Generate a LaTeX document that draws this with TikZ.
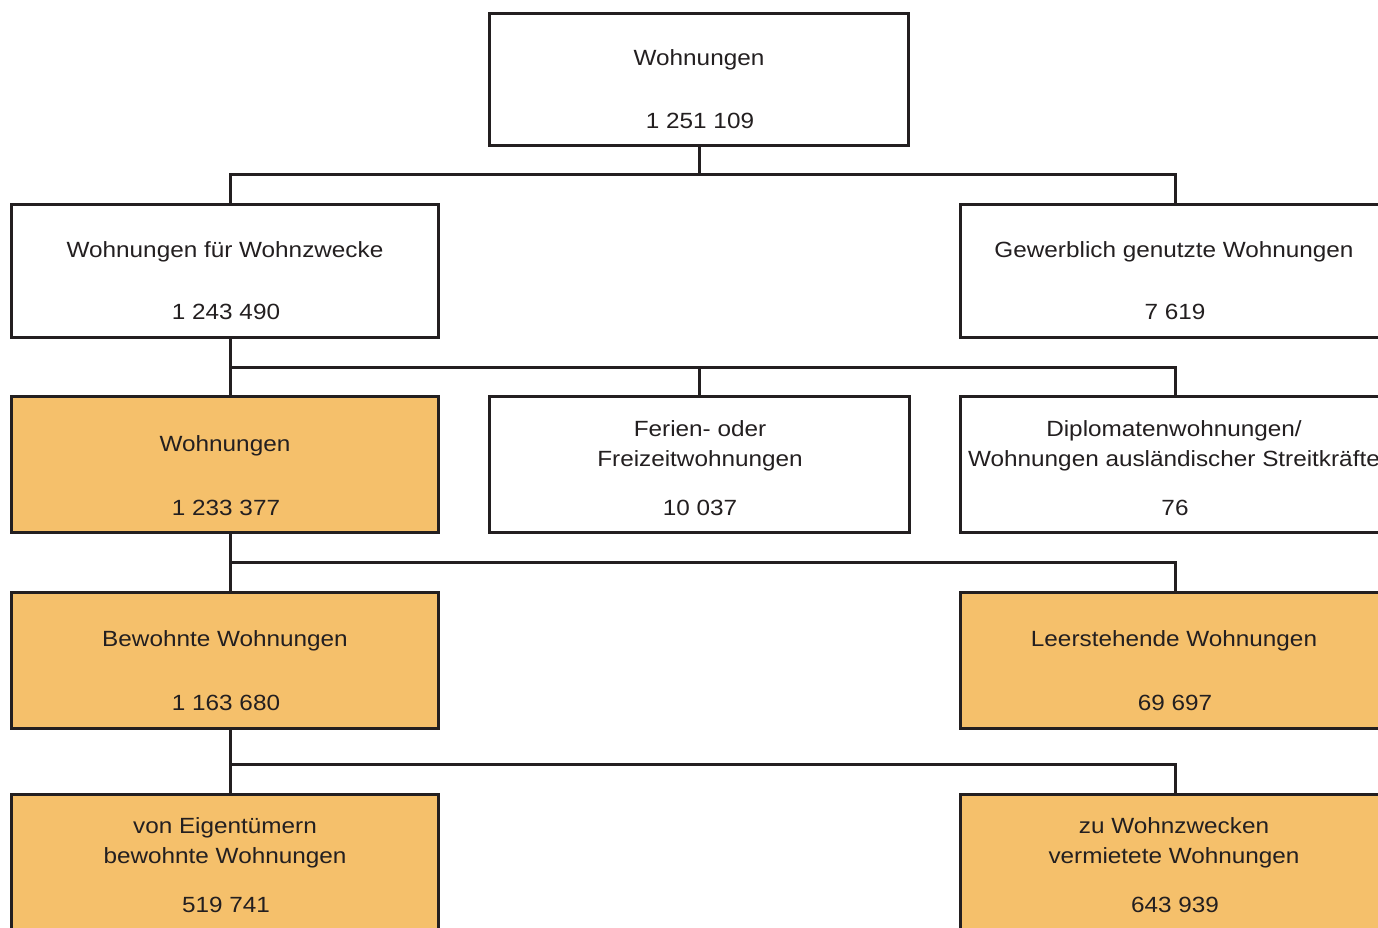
\documentclass[tikz,border=0pt]{standalone}
\usepackage{fontspec}
\setmainfont[FakeStretch=1.105]{Liberation Sans}
\definecolor{ink}{HTML}{231F20}
\definecolor{fillorange}{HTML}{F5C06B}
\begin{document}
\begin{tikzpicture}[x=1pt,y=-1pt,
  box/.style={draw=ink, line width=3pt, rectangle, inner sep=0pt},
  wbox/.style={box, fill=white},
  obox/.style={box, fill=fillorange},
  lbl/.style={anchor=base, inner sep=0pt, text=ink, font=\fontsize{22}{30}\selectfont},
  conn/.style={draw=ink, line width=3pt}]
\useasboundingbox (0,0) rectangle (1378,927);
\clip (0,0) rectangle (1378,927);
\fill[white] (0,0) rectangle (1378,927);

% junction coordinates
\coordinate (j1) at (699,174);
\coordinate (j2) at (230,367);
\coordinate (j3) at (230,562);
\coordinate (j4) at (230,764);

% boxes
\node[wbox, minimum width=419pt, minimum height=132pt] (top) at (699,79) {};
\node[wbox, minimum width=427pt, minimum height=133pt] (wz) at (224.5,270.5) {};
\node[wbox, minimum width=428pt, minimum height=133pt] (gw) at (1174,270.5) {};
\node[obox, minimum width=427pt, minimum height=136pt] (wo) at (224.5,464) {};
\node[wbox, minimum width=420pt, minimum height=136pt] (fe) at (699,464) {};
\node[wbox, minimum width=428pt, minimum height=136pt] (di) at (1174,464) {};
\node[obox, minimum width=427pt, minimum height=136pt] (be) at (224.5,660) {};
\node[obox, minimum width=428pt, minimum height=136pt] (le) at (1174,660) {};
\node[obox, minimum width=427pt, minimum height=136pt] (ei) at (224.5,862) {};
\node[obox, minimum width=428pt, minimum height=136pt] (ve) at (1174,862) {};

% connectors
\draw[conn] (top.south) -- (j1);
\draw[conn] ([xshift=5.5pt]wz.north) |- (j1) -| ([xshift=1pt]gw.north);
\draw[conn] ([xshift=5.5pt]wz.south) -- (j2);
\draw[conn] ([xshift=5.5pt]wo.north) |- (j2 -| fe.north) -| ([xshift=1pt]di.north);
\draw[conn] (j2 -| fe.north) -- (fe.north);
\draw[conn] ([xshift=5.5pt]wo.south) -- (j3);
\draw[conn] ([xshift=5.5pt]be.north) |- (j3) -| ([xshift=1pt]le.north);
\draw[conn] ([xshift=5.5pt]be.south) -- (j4);
\draw[conn] ([xshift=5.5pt]ei.north) |- (j4) -| ([xshift=1pt]ve.north);

% labels
\node[lbl] (top1) at (699,65) {Wohnungen};
\node[lbl] (top2) at (700,128) {1 251 109};
\node[lbl] (wz1) at (225,257) {Wohnungen für Wohnzwecke};
\node[lbl] (wz2) at (226,319) {1 243 490};
\node[lbl] (gw1) at (1174,257) {Gewerblich genutzte Wohnungen};
\node[lbl] (gw2) at (1175,319) {7 619};
\node[lbl] (wo1) at (225,451) {Wohnungen};
\node[lbl] (wo2) at (226,515) {1 233 377};
\node[lbl] (fe1) at (700,436) {Ferien- oder};
\node[lbl] (fe2) at (700,466) {Freizeitwohnungen};
\node[lbl] (fe3) at (700,515) {10 037};
\node[lbl] (di1) at (1174,436) {Diplomatenwohnungen/};
\node[lbl] (di2) at (1174,466) {Wohnungen ausländischer Streitkräfte};
\node[lbl] (di3) at (1175,515) {76};
\node[lbl] (be1) at (225,646) {Bewohnte Wohnungen};
\node[lbl] (be2) at (226,710) {1 163 680};
\node[lbl] (le1) at (1174,646) {Leerstehende Wohnungen};
\node[lbl] (le2) at (1175,710) {69 697};
\node[lbl] (ei1) at (225,833) {von Eigentümern};
\node[lbl] (ei2) at (225,863) {bewohnte Wohnungen};
\node[lbl] (ei3) at (226,912) {519 741};
\node[lbl] (ve1) at (1174,833) {zu Wohnzwecken};
\node[lbl] (ve2) at (1174,863) {vermietete Wohnungen};
\node[lbl] (ve3) at (1175,912) {643 939};
\end{tikzpicture}
\end{document}
